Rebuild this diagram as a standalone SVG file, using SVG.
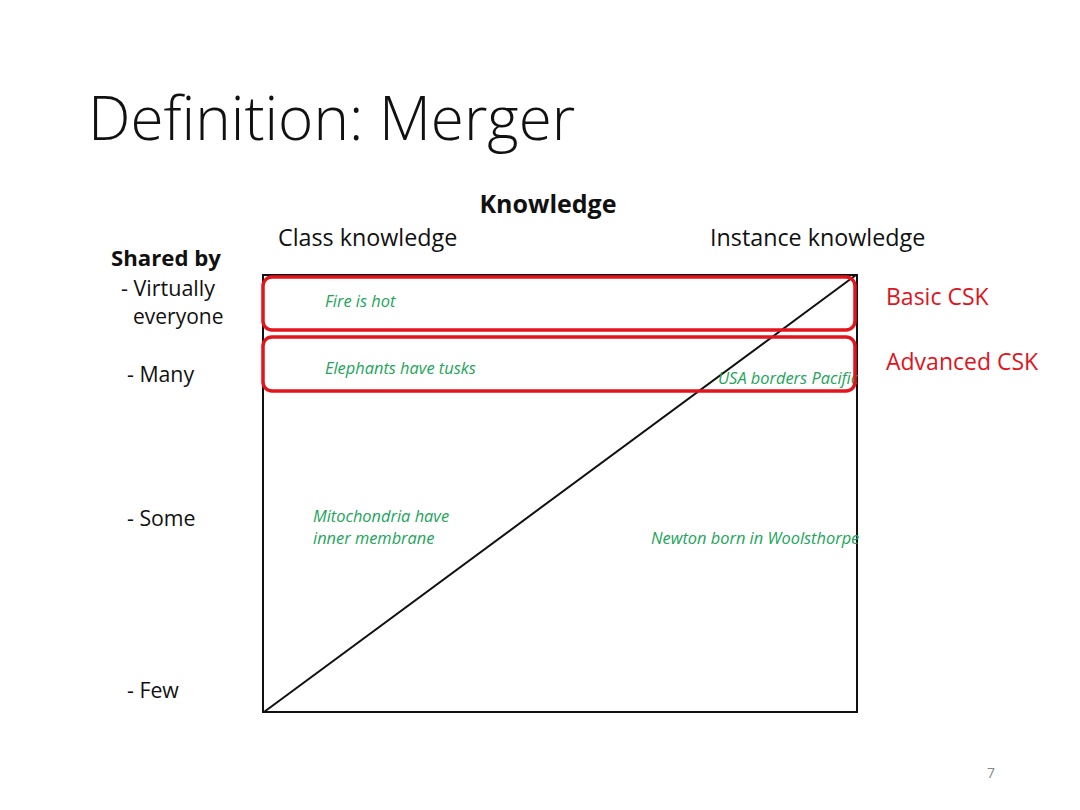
<svg xmlns="http://www.w3.org/2000/svg" width="1080" height="810" viewBox="0 0 1080 810">
<style>
.t{font-family:"Open Sans","Liberation Sans",sans-serif;fill:#111}
.g{font-family:"Open Sans","Liberation Sans",sans-serif;font-style:italic;fill:#22a45a;font-size:16.4px}
.r{font-family:"Open Sans","Liberation Sans",sans-serif;fill:#e0141c;font-size:23px}
.band{fill:none;stroke:#e3141c;stroke-width:3.5}
</style>
<rect width="1080" height="810" fill="#fff"/>
<text class="t" x="88" y="140" font-size="60.2" font-weight="300">Definition: Merger</text>
<text class="t" x="548" y="213" font-size="25" font-weight="bold" text-anchor="middle">Knowledge</text>
<text class="t" x="278" y="246" font-size="23.3">Class knowledge</text>
<text class="t" x="710" y="246" font-size="23.3">Instance knowledge</text>
<text class="t" x="111" y="266" font-size="22.2" font-weight="bold">Shared by</text>
<text class="t" x="121" y="296" font-size="21.5">- Virtually</text>
<text class="t" x="133" y="324" font-size="21">everyone</text>
<text class="t" x="127" y="382" font-size="21.3">- Many</text>
<text class="t" x="127" y="526" font-size="21.3">- Some</text>
<text class="t" x="127" y="698" font-size="21.3">- Few</text>
<g id="chart">
<rect x="263" y="275" width="594" height="437" fill="none" stroke="#111" stroke-width="2"/>
<line x1="264" y1="712" x2="856" y2="275" stroke="#111" stroke-width="2"/>
</g>
<g id="labels">
<text class="g" x="325" y="307">Fire is hot</text>
<text class="g" x="325" y="374">Elephants have tusks</text>
<text class="g" x="718" y="384">USA borders Pacific</text>
<text class="g" x="313" y="522">Mitochondria have</text>
<text class="g" x="313" y="544">inner membrane</text>
<text class="g" x="651" y="544">Newton born in Woolsthorpe</text>
</g>
<g id="basic">
<rect class="band" x="263" y="277" width="592" height="53" rx="9"/>
<text class="r" x="886" y="305">Basic CSK</text>
</g>
<g id="advanced">
<rect class="band" x="263" y="337" width="592" height="54" rx="9"/>
<text class="r" x="886" y="370">Advanced CSK</text>
</g>
<text x="987" y="778" font-family="Open Sans,Liberation Sans,sans-serif" font-size="14" fill="#888">7</text>
</svg>
